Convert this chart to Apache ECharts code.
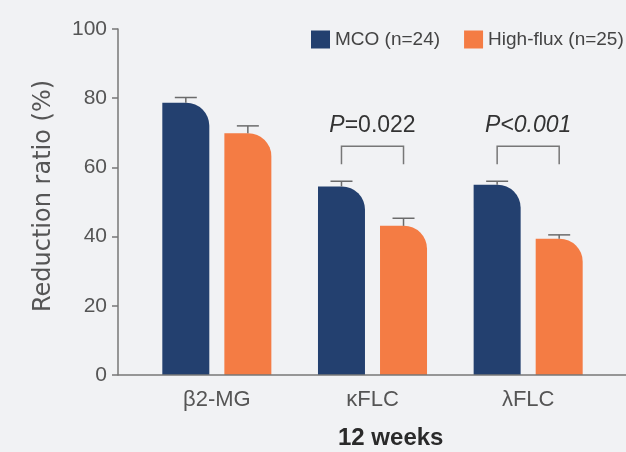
<!DOCTYPE html>
<html>
<head>
<meta charset="utf-8">
<script src="https://cdn.jsdelivr.net/npm/echarts@6/dist/echarts.min.js"></script>
<style>
html,body{margin:0;padding:0;background:#F1F2F4;}
#chart{width:626px;height:452px;}
</style>
</head>
<body>
<div id="chart"></div>
<script>
// ---- data ----
var categories = ['β2-MG', 'κFLC', 'λFLC'];
var seriesNames = ['MCO (n=24)', 'High-flux (n=25)'];
var mcoValues = [78.7, 54.5, 55.0];
var mcoErrors = [1.5, 1.5, 1.0];
var hfValues = [69.9, 43.1, 39.4];
var hfErrors = [2.1, 2.2, 1.1];
var pCategories = [1, 2];
var pItalic = ['P', 'P<0.001'];
var pRest = ['=0.022', ''];
var yTicks = [0, 20, 40, 60, 80, 100];
var xTitle = '12 weeks';
var yTitle = 'Reduction ratio (%)';

// ---- style / layout ----
var NAVY = '#23406F', ORANGE = '#F47C44', GRAY = '#777', TXT = '#555';
var BAR_W = 47, BAR_GAP = 0.32;
var HALF = (BAR_W + BAR_W * BAR_GAP) / 2;
var GRID_LEFT = 139, Y_OFFSET = 21;
var BR_LOW = 60.9, BR_HIGH = 66.1, P_LEVEL = 72.1;

var chart = echarts.init(document.getElementById('chart'));

function errorSeries(values, errors, sign) {
  return {
    type: 'custom',
    z: 5,
    silent: true,
    data: values.map(function (v, i) { return [i, v, errors[i]]; }),
    encode: { x: 0, y: 1 },
    renderItem: function (params, api) {
      var i = api.value(0), v = api.value(1), e = api.value(2);
      var base = api.coord([i, v]);
      var top = api.coord([i, v + e]);
      var cx = base[0] + sign * HALF;
      return {
        type: 'group',
        children: [
          { type: 'line', shape: { x1: cx, y1: base[1], x2: cx, y2: top[1] },
            style: { stroke: '#6b6b6b', lineWidth: 1.5 } },
          { type: 'line', shape: { x1: cx - 11, y1: top[1], x2: cx + 11, y2: top[1] },
            style: { stroke: '#6b6b6b', lineWidth: 1.5 } }
        ]
      };
    }
  };
}

var option = {
  backgroundColor: '#F1F2F4',
  animation: false,
  textStyle: { fontFamily: 'Liberation Sans' },
  legend: {
    left: 306, top: 25,
    width: 330,
    itemWidth: 19, itemHeight: 18, itemGap: 24,
    icon: 'rect',
    textStyle: { fontFamily: 'Liberation Sans', fontSize: 19, color: '#444' },
    data: seriesNames
  },
  grid: { left: GRID_LEFT, right: 20, top: 29, bottom: 77 },
  xAxis: {
    type: 'category',
    data: categories,
    axisLine: { show: false },
    axisTick: { show: false },
    axisLabel: { fontSize: 22, color: TXT, margin: 14, fontFamily: 'Liberation Sans' }
  },
  yAxis: {
    type: 'value',
    min: yTicks[0], max: yTicks[yTicks.length - 1], interval: 20,
    offset: Y_OFFSET,
    name: yTitle,
    nameLocation: 'middle',
    nameRotate: 90,
    nameGap: 62,
    nameTextStyle: { fontFamily: 'DejaVu Sans', fontSize: 24, color: TXT, padding: [0, 0, 0, 12] },
    axisLine: { show: true, lineStyle: { color: GRAY, width: 1.5 } },
    axisTick: { show: true, length: 6, lineStyle: { color: GRAY, width: 1.5 } },
    axisLabel: { fontFamily: 'Liberation Sans', fontSize: 21, color: TXT, margin: 11 },
    splitLine: { show: false }
  },
  series: [
    {
      name: seriesNames[0], type: 'bar', data: mcoValues,
      barWidth: BAR_W, barGap: (BAR_GAP * 100) + '%',
      itemStyle: { color: NAVY, borderRadius: [0, 23, 0, 0] }
    },
    {
      name: seriesNames[1], type: 'bar', data: hfValues,
      barWidth: BAR_W,
      itemStyle: { color: ORANGE, borderRadius: [0, 23, 0, 0] }
    },
    errorSeries(mcoValues, mcoErrors, -1),
    errorSeries(hfValues, hfErrors, 1),
    {
      type: 'custom',
      z: 5,
      silent: true,
      data: pCategories.map(function (c, k) { return [c, P_LEVEL, k]; }),
      encode: { x: 0, y: 1 },
      renderItem: function (params, api) {
        var c = api.value(0), k = api.value(2);
        var pt = api.coord([c, api.value(1)]);
        var lo = api.coord([c, BR_LOW])[1];
        var hi = api.coord([c, BR_HIGH])[1];
        var xl = pt[0] - HALF, xr = pt[0] + HALF;
        var txt = '{i|' + pItalic[k] + '}' + (pRest[k] ? '{n|' + pRest[k] + '}' : '');
        return {
          type: 'group',
          children: [
            { type: 'polyline', shape: { points: [[xl, lo], [xl, hi], [xr, hi], [xr, lo]] },
              style: { stroke: GRAY, lineWidth: 1.5, fill: null } },
            { type: 'text', x: pt[0], y: pt[1],
              style: {
                text: txt, align: 'center', verticalAlign: 'middle',
                rich: {
                  i: { fontStyle: 'italic', fontSize: 23, fontFamily: 'Liberation Sans', fill: '#333', color: '#333' },
                  n: { fontSize: 23, fontFamily: 'Liberation Sans', fill: '#333', color: '#333' }
                }
              } }
          ]
        };
      }
    }
  ]
};
chart.setOption(option);

// baseline (x-axis line) across the full plot width, and bottom title
var y0 = chart.convertToPixel({ yAxisIndex: 0 }, 0);
chart.setOption({
  graphic: [
    { type: 'line', z: 10, shape: { x1: GRID_LEFT - Y_OFFSET, y1: y0, x2: 626, y2: y0 },
      style: { stroke: GRAY, lineWidth: 1.5 } },
    { type: 'text', left: 338, top: 426,
      style: { text: xTitle, fontSize: 24, fontWeight: 'bold', fontFamily: 'Liberation Sans', fill: '#2a2a2a' } }
  ]
});
</script>
</body>
</html>
